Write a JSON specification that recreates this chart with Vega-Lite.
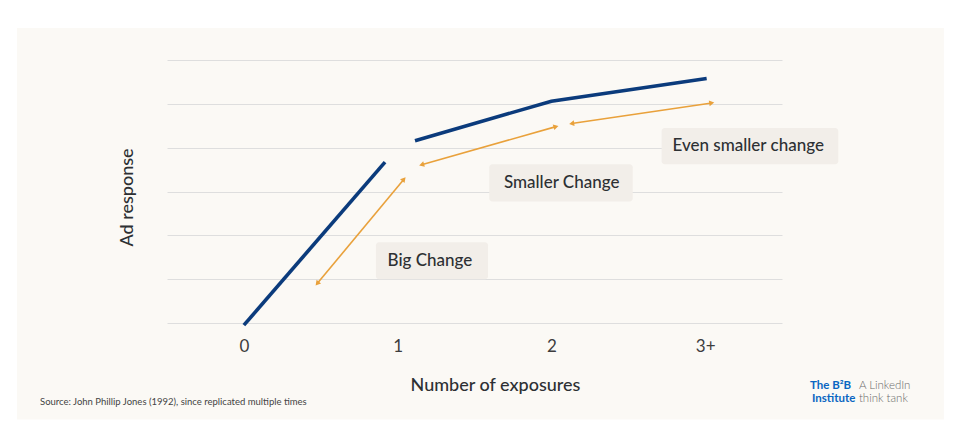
{
  "$schema": "https://vega.github.io/schema/vega-lite/v6.json",
  "width": 615,
  "height": 263,
  "autosize": {"type": "none"},
  "padding": {"left": 167, "top": 60, "right": 184, "bottom": 112},
  "background": "#fbf9f5",
  "config": {
    "view": {"stroke": null},
    "font": "Lato"
  },
  "datasets": {
    "margins": [
      {"side": "left", "x": -2, "x2": -1.476, "y": 8, "y2": -3},
      {"side": "right", "x": 4.553, "x2": 5, "y": 8, "y2": -3},
      {"side": "top", "x": -2, "x2": 5, "y": 8, "y2": 6.73},
      {"side": "bottom", "x": -2, "x2": 5, "y": -2.2, "y2": -3}
    ],
    "curve": [
      {"seg": "a", "x": 0, "y": -0.05},
      {"seg": "a", "x": 0.918, "y": 3.67},
      {"seg": "b", "x": 1.113, "y": 4.16},
      {"seg": "b", "x": 2, "y": 5.06},
      {"seg": "b", "x": 3.01, "y": 5.58}
    ],
    "arrows": [
      {"arrow": "big", "end": "start", "x": 0.477, "y": 0.9},
      {"arrow": "big", "end": "finish", "x": 1.041, "y": 3.28},
      {"arrow": "smaller", "end": "start", "x": 1.156, "y": 3.61},
      {"arrow": "smaller", "end": "finish", "x": 2.03, "y": 4.48},
      {"arrow": "even", "end": "start", "x": 2.132, "y": 4.55},
      {"arrow": "even", "end": "finish", "x": 3.043, "y": 5.02}
    ],
    "boxes": [
      {"label": "Big Change", "x": 0.859, "x2": 1.588, "y": 1.84, "y2": 1.0, "tx": 1.21, "ty": 1.42},
      {"label": "Smaller Change", "x": 1.596, "x2": 2.529, "y": 3.62, "y2": 2.77, "tx": 2.067, "ty": 3.19},
      {"label": "Even smaller change", "x": 2.717, "x2": 3.866, "y": 4.45, "y2": 3.62, "tx": 3.28, "ty": 4.03}
    ],
    "source": [{"text": "Source: John Phillip Jones (1992), since replicated multiple times", "x": -1.326, "y": -1.8}],
    "logoBlue": [
      {"text": "The B²B", "x": 3.682, "y": -1.44},
      {"text": "Institute", "x": 3.695, "y": -1.735}
    ],
    "logoGrey": [
      {"text": "A LinkedIn", "x": 4.0, "y": -1.44},
      {"text": "think tank", "x": 4.0, "y": -1.735}
    ]
  },
  "encoding": {
    "x": {
      "field": "x",
      "type": "quantitative",
      "scale": {"domain": [-0.5, 3.5], "nice": false, "zero": false},
      "axis": {
        "title": "Number of exposures",
        "values": [0, 1, 2, 3],
        "labelExpr": "datum.value == 3 ? '3+' : datum.label",
        "grid": false,
        "ticks": false,
        "domain": false,
        "labelFontSize": 17,
        "labelFontWeight": "normal",
        "labelColor": "#3d3d3d",
        "labelPadding": 15,
        "titleFontSize": 18,
        "titleFontWeight": 500,
        "titleColor": "#2d3033",
        "titleX": 328,
        "titleY": 62,
        "titleBaseline": "middle",
        "titleAnchor": null,
        "titleAlign": "center"
      }
    },
    "y": {
      "field": "y",
      "type": "quantitative",
      "scale": {"domain": [0, 6], "nice": false, "zero": false},
      "axis": {
        "title": "Ad response",
        "values": [0, 1, 2, 3, 4, 5, 6],
        "labels": false,
        "ticks": false,
        "domain": false,
        "grid": true,
        "gridColor": "#dedede",
        "gridWidth": 1,
        "titleFontSize": 18,
        "titleFontWeight": 500,
        "titleColor": "#2d3033",
        "titleAngle": -90,
        "titleX": -40,
        "titleY": 137,
        "titleBaseline": "middle",
        "titleAlign": "center",
        "titleAnchor": null
      }
    }
  },
  "layer": [
    {
      "data": {"name": "margins"},
      "mark": {"type": "rect", "fill": "white", "clip": false},
      "encoding": {"x2": {"field": "x2"}, "y2": {"field": "y2"}}
    },
    {
      "data": {"name": "boxes"},
      "mark": {"type": "rect", "fill": "#f2eee9", "cornerRadius": 3, "clip": false},
      "encoding": {"x2": {"field": "x2"}, "y2": {"field": "y2"}}
    },
    {
      "data": {"name": "boxes"},
      "mark": {"type": "text", "fontSize": 17, "fontWeight": 500, "color": "#2d3033", "align": "center", "baseline": "middle"},
      "encoding": {
        "x": {"field": "tx", "type": "quantitative"},
        "y": {"field": "ty", "type": "quantitative"},
        "text": {"field": "label"}
      }
    },
    {
      "data": {"name": "curve"},
      "mark": {"type": "line", "color": "#0b3b7c", "strokeWidth": 3.6, "strokeCap": "butt", "clip": false},
      "encoding": {"detail": {"field": "seg"}}
    },
    {
      "data": {"name": "arrows"},
      "mark": {"type": "line", "color": "#e9a13b", "strokeWidth": 1.6},
      "encoding": {"detail": {"field": "arrow"}}
    },
    {
      "data": {"name": "arrows"},
      "transform": [{"filter": "datum.arrow == 'big'"}],
      "mark": {"type": "point", "filled": true, "color": "#e9a13b", "size": 34, "opacity": 1, "angle": 309.8},
      "encoding": {
        "shape": {"field": "end", "type": "nominal", "scale": {"domain": ["start", "finish"], "range": ["triangle-left", "triangle-right"]}, "legend": null}
      }
    },
    {
      "data": {"name": "arrows"},
      "transform": [{"filter": "datum.arrow == 'smaller'"}],
      "mark": {"type": "point", "filled": true, "color": "#e9a13b", "size": 34, "opacity": 1, "angle": 344.1},
      "encoding": {
        "shape": {"field": "end", "type": "nominal", "scale": {"domain": ["start", "finish"], "range": ["triangle-left", "triangle-right"]}, "legend": null}
      }
    },
    {
      "data": {"name": "arrows"},
      "transform": [{"filter": "datum.arrow == 'even'"}],
      "mark": {"type": "point", "filled": true, "color": "#e9a13b", "size": 34, "opacity": 1, "angle": 351.6},
      "encoding": {
        "shape": {"field": "end", "type": "nominal", "scale": {"domain": ["start", "finish"], "range": ["triangle-left", "triangle-right"]}, "legend": null}
      }
    },
    {
      "data": {"name": "source"},
      "mark": {"type": "text", "fontSize": 9.5, "color": "#444444", "align": "left", "baseline": "middle", "clip": false},
      "encoding": {"text": {"field": "text"}}
    },
    {
      "data": {"name": "logoBlue"},
      "mark": {"type": "text", "fontSize": 11.5, "fontWeight": "bold", "color": "#0a66c2", "align": "left", "baseline": "middle", "clip": false},
      "encoding": {"text": {"field": "text"}}
    },
    {
      "data": {"name": "logoGrey"},
      "mark": {"type": "text", "fontSize": 11.5, "fontWeight": 300, "color": "#6b6b6b", "align": "left", "baseline": "middle", "clip": false},
      "encoding": {"text": {"field": "text"}}
    }
  ]
}
